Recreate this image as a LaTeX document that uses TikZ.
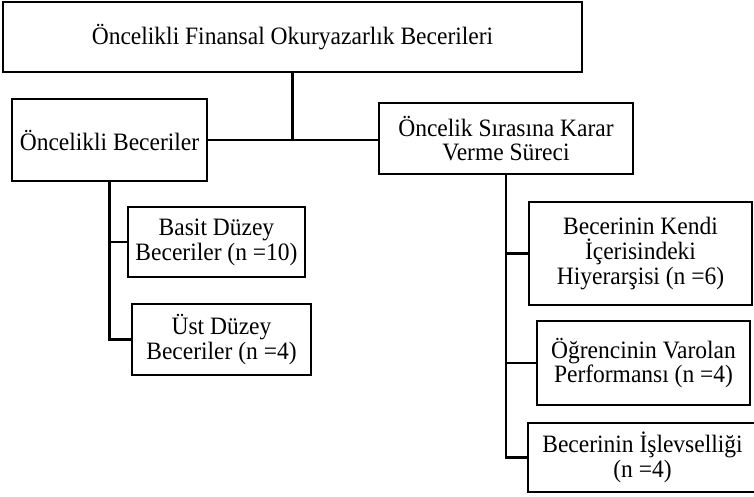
\documentclass[tikz,border=0pt]{standalone}
\usepackage{fontspec}
\setmainfont{Liberation Serif}[FakeStretch=0.94]
\begin{document}
\begin{tikzpicture}[x=1pt,y=-1pt,
  box/.style={draw, line width=2.8pt, inner sep=0pt, align=center,
              font=\fontsize{25}{24.8}\selectfont},
  link/.style={line width=2.8pt}]
\useasboundingbox (0,0) rectangle (754,496);
\node[box, minimum width=579, minimum height=70] (top) at (292.5,37) {Öncelikli Finansal Okuryazarlık Becerileri};
\node[box, minimum width=195, minimum height=82] (ob) at (109.5,140) {Öncelikli Beceriler};
\node[box, minimum width=254, minimum height=71] (os) at (506,138.5) {Öncelik Sırasına Karar\\Verme Süreci};
\node[box, minimum width=177, minimum height=70] (basit) at (216.5,242) {Basit Düzey\\Beceriler (n =10)};
\node[box, minimum width=179, minimum height=71] (ust) at (221.5,339.5) {Üst Düzey\\Beceriler (n =4)};
\node[box, minimum width=223, minimum height=103] (bk) at (640.5,253.5) {Becerinin Kendi\\İçerisindeki\\Hiyerarşisi (n =6)};
\node[box, minimum width=213, minimum height=84] (og) at (643.5,363) {Öğrencinin Varolan\\Performansı (n =4)};
\node[box, minimum width=229, minimum height=69] (bi) at (642.5,457.5) {Becerinin İşlevselliği\\(n =4)};
\draw[link] (top.south) |- (ob.east);
\draw[link] (ob.east) -- (os.west |- ob.east);
\draw[link] (ob.south) |- (basit.west);
\draw[link] (ob.south) |- (ust.west);
\draw[link] (os.south) |- (bk.west);
\draw[link] (os.south) |- (og.west);
\draw[link] (os.south) |- (bi.west);
\end{tikzpicture}
\end{document}
